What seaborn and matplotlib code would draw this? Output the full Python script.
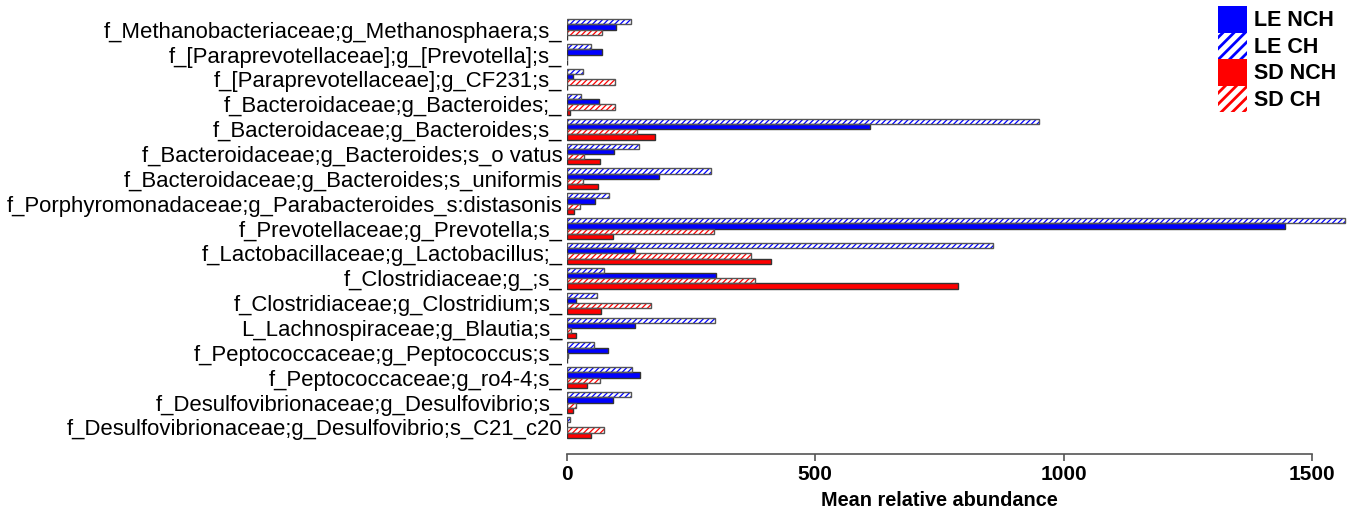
import matplotlib
matplotlib.use('Agg')
import matplotlib.pyplot as plt
import matplotlib.patches as mpatches
import seaborn as sns
import pandas as pd

categories = [
    "f_Methanobacteriaceae;g_Methanosphaera;s_",
    "f_[Paraprevotellaceae];g_[Prevotella];s_",
    "f_[Paraprevotellaceae];g_CF231;s_",
    "f_Bacteroidaceae;g_Bacteroides;_",
    "f_Bacteroidaceae;g_Bacteroides;s_",
    "f_Bacteroidaceae;g_Bacteroides;s_o vatus",
    "f_Bacteroidaceae;g_Bacteroides;s_uniformis",
    "f_Porphyromonadaceae;g_Parabacteroides_s:distasonis",
    "f_Prevotellaceae;g_Prevotella;s_",
    "f_Lactobacillaceae;g_Lactobacillus;_",
    "f_Clostridiaceae;g_;s_",
    "f_Clostridiaceae;g_Clostridium;s_",
    "L_Lachnospiraceae;g_Blautia;s_",
    "f_Peptococcaceae;g_Peptococcus;s_",
    "f_Peptococcaceae;g_ro4-4;s_",
    "f_Desulfovibrionaceae;g_Desulfovibrio;s_",
    "f_Desulfovibrionaceae;g_Desulfovibrio;s_C21_c20",
]
le_ch = [129, 50, 33, 29, 950, 145, 290, 86, 1566, 857, 76, 62, 299, 56, 131, 129, 7]
le_nch = [99, 72, 13, 66, 610, 95, 186, 58, 1445, 138, 300, 18, 138, 84, 147, 94, 1]
sd_ch = [72, 0, 98, 98, 142, 35, 33, 26, 296, 371, 379, 170, 9, 3, 68, 19, 76]
sd_nch = [0, 0, 0, 7, 177, 67, 64, 14, 94, 412, 787, 70, 19, 1, 40, 12, 50]
series_names = ["LE CH", "LE NCH", "SD CH", "SD NCH"]
legend_order = ["LE NCH", "LE CH", "SD NCH", "SD CH"]
x_ticks = [0, 500, 1000, 1500]
x_label = "Mean relative abundance"

BLUE = "#0000ff"
RED = "#ff0000"
colors = {"LE CH": BLUE, "LE NCH": BLUE, "SD CH": RED, "SD NCH": RED}
hatched = {"LE CH": True, "LE NCH": False, "SD CH": True, "SD NCH": False}

sns.set_theme(style="white")
plt.rcParams['font.family'] = ['Liberation Sans', 'DejaVu Sans']
plt.rcParams['hatch.linewidth'] = 0.9
plt.rcParams['text.color'] = 'black'

rows = []
for name, vals in zip(series_names, [le_ch, le_nch, sd_ch, sd_nch]):
    for cat, v in zip(categories, vals):
        rows.append({"taxon": cat, "value": v, "series": name})
df = pd.DataFrame(rows)

fig = plt.figure(figsize=(13.53, 5.13), dpi=100)
ax = fig.add_axes([0.4188, 0.115, 0.5767, 0.8513])

sns.barplot(data=df, y="taxon", x="value", hue="series", hue_order=series_names,
            order=categories, orient="h", palette=colors, width=0.84,
            saturation=1, legend=False, ax=ax, errorbar=None)

for name, cont in zip(series_names, ax.containers):
    for bar in cont:
        if hatched[name]:
            bar.set_facecolor("white")
            bar.set_edgecolor(colors[name])
            bar.set_hatch("//////")
            bar.set_linewidth(0)
            outline = mpatches.Rectangle(bar.get_xy(), bar.get_width(), bar.get_height(),
                                         fill=False, edgecolor="#555555", linewidth=1.0)
            ax.add_patch(outline)
        else:
            bar.set_edgecolor("#333333")
            bar.set_linewidth(1.0)

ax.set_xlim(0, 1570)
ax.set_ylim(17.07, -0.5)
ax.set_xticks(x_ticks)
ax.set_xticklabels([str(t) for t in x_ticks])
for s in ["left", "top", "right"]:
    ax.spines[s].set_visible(False)
ax.spines["bottom"].set_bounds(0, 1500)
ax.spines["bottom"].set_color("#555555")
ax.spines["bottom"].set_linewidth(1.2)
ax.tick_params(axis="x", bottom=True, length=5, width=1.2, color="#555555",
               labelsize=15, pad=3, labelcolor="black")
for lab in ax.get_xticklabels():
    lab.set_fontweight("bold")
ax.tick_params(axis="y", left=False, length=0, labelsize=15.9, pad=3, labelcolor="black")
ax.set_ylabel("")
ax.set_xlabel(x_label, fontsize=14.3, fontweight="bold", color="black")
ax.xaxis.set_label_coords(750 / 1570, -0.085)

handles = []
for name in legend_order:
    if hatched[name]:
        handles.append(mpatches.Patch(facecolor="white", edgecolor=colors[name],
                                      hatch="///", linewidth=0, label=name))
    else:
        handles.append(mpatches.Patch(facecolor=colors[name], edgecolor=colors[name],
                                      linewidth=0, label=name))
leg = fig.legend(handles=handles, loc="upper left", bbox_to_anchor=(1218 / 1353, 1 - 6 / 513),
                 frameon=False, prop={"weight": "bold", "size": 15.5}, handlelength=1.35,
                 handleheight=1.52, labelspacing=0.0, handletextpad=0.3, borderpad=0,
                 borderaxespad=0, labelcolor="black")
for h in leg.legend_handles:
    if h.get_hatch() and hasattr(h, "set_hatch_linewidth"):
        h.set_hatch_linewidth(2.0)

fig.savefig("out.png", dpi=100)
